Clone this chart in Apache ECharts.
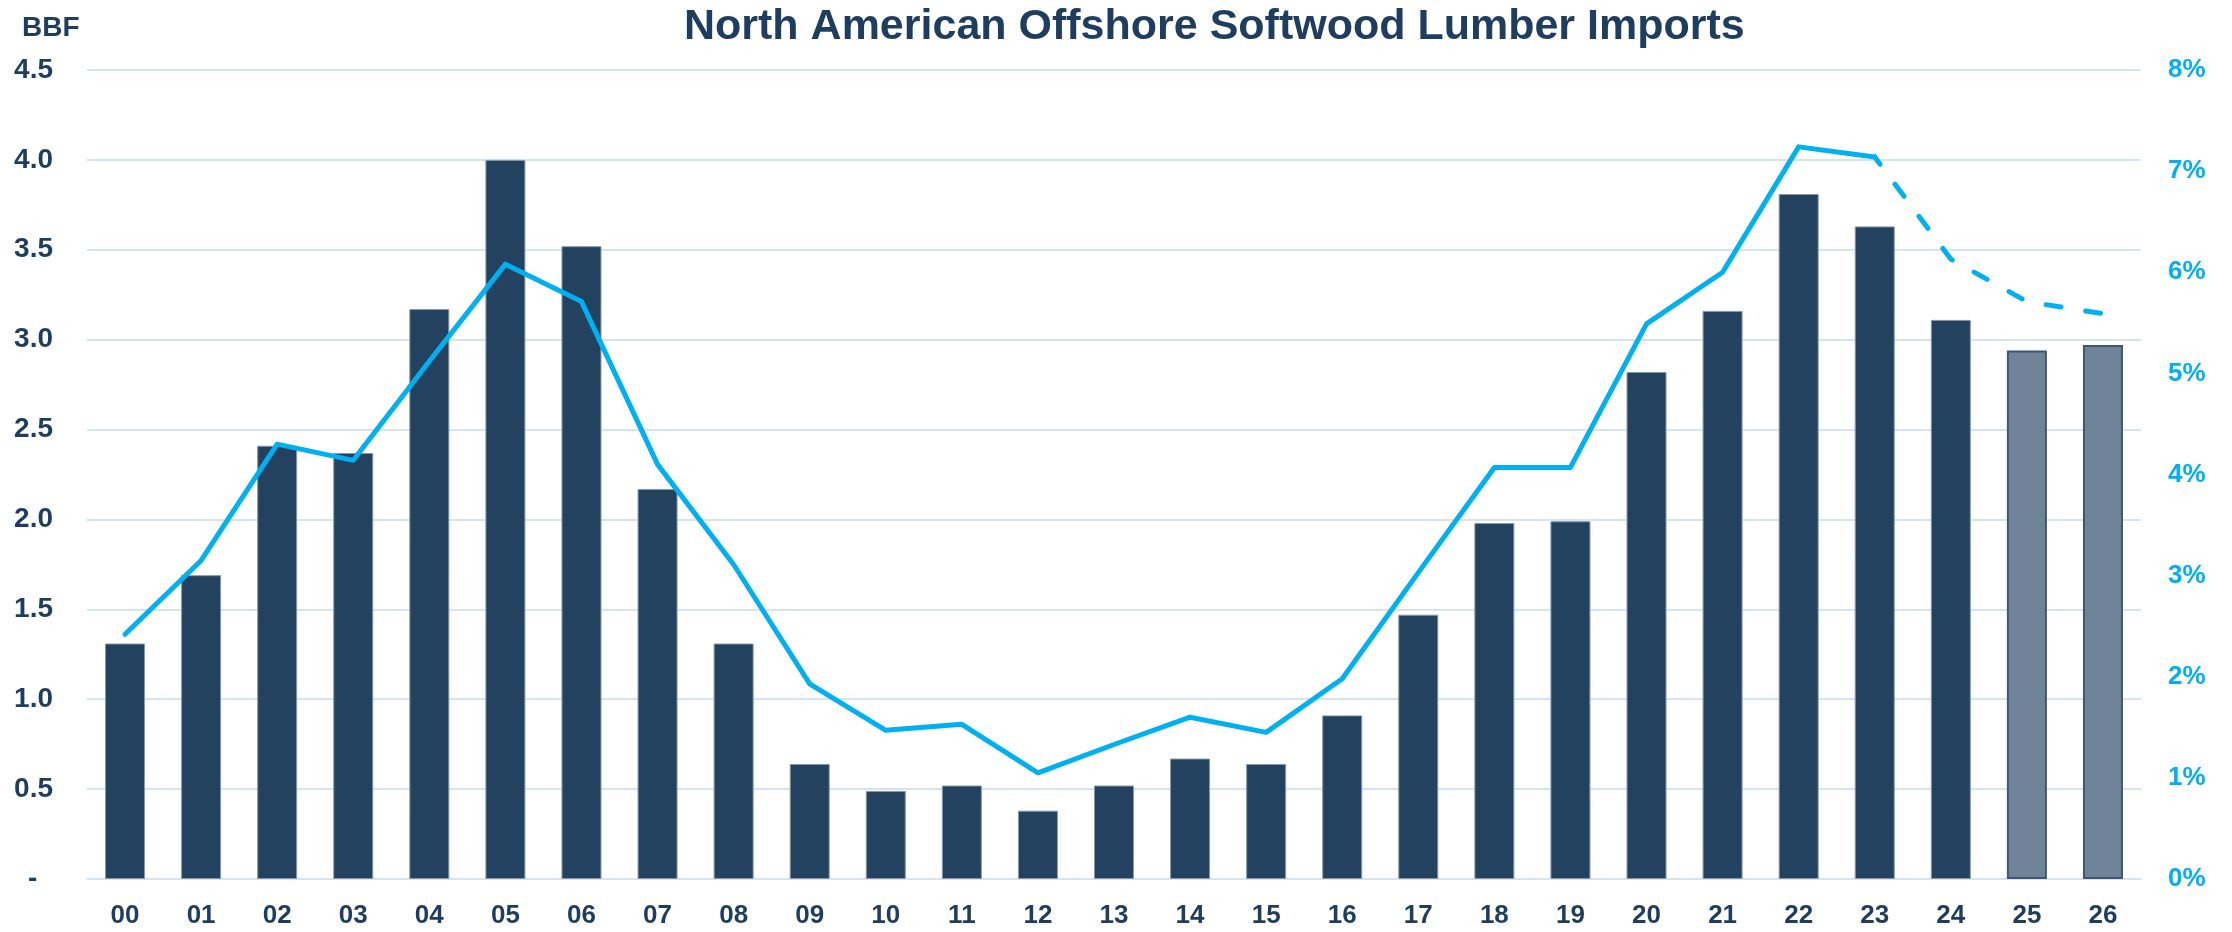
<!DOCTYPE html>
<html>
<head>
<meta charset="utf-8">
<title>North American Offshore Softwood Lumber Imports</title>
<script src="https://cdn.jsdelivr.net/npm/echarts@6/dist/echarts.min.js"></script>
<style>
  html, body { margin: 0; padding: 0; background: #ffffff; }
  #chart { width: 2232px; height: 932px; }
</style>
</head>
<body>
<div id="chart"></div>
<script>
// Years (two-digit), 2000–2026
const years = ['00','01','02','03','04','05','06','07','08','09','10','11','12','13',
               '14','15','16','17','18','19','20','21','22','23','24','25','26'];

// Offshore softwood lumber imports, billion board feet
const importsBBF = [1.31, 1.69, 2.41, 2.37, 3.17, 4.00, 3.52, 2.17, 1.31, 0.64, 0.49, 0.52, 0.38, 0.52,
                    0.67, 0.64, 0.91, 1.47, 1.98, 1.99, 2.82, 3.16, 3.81, 3.63, 3.11, 2.94, 2.97];

// Offshore share of North American consumption, percent
const sharePct = [2.42, 3.15, 4.30, 4.14, 5.12, 6.08, 5.71, 4.10, 3.11, 1.93, 1.47, 1.53, 1.05, 1.33,
                  1.60, 1.45, 1.98, 3.03, 4.07, 4.07, 5.49, 6.00, 7.24, 7.14, 6.13, 5.71, 5.59];

// Years drawn as forecasts (lighter bars)
const forecastYears = ['25', '26'];
// The share line turns dashed from this year on
const dashedFrom = '23';

// Left axis tick range
const bbfMin = 0, bbfMax = 4.5, bbfStep = 0.5;
// Right axis tick range
const pctMin = 0, pctMax = 8, pctStep = 1;

const NAVY = '#22425f';
const NAVY_TEXT = '#1f3d5e';
const FORECAST = '#6f8499';
const FORECAST_EDGE = '#3d5775';
const CYAN = '#00b0f0';
const GRID = '#d8e3f0';
const FONT = 'Arial, "Liberation Sans", Helvetica, sans-serif';

const cut = years.indexOf(dashedFrom);

const barData = years.map((y, i) => {
  const fc = forecastYears.includes(y);
  return {
    value: importsBBF[i],
    itemStyle: fc
      ? { color: FORECAST, borderColor: FORECAST_EDGE, borderWidth: 2 }
      : { color: NAVY, borderColor: '#8798ab', borderWidth: 1 }
  };
});
const solidLine = sharePct.map((v, i) => (i <= cut ? v : null));
const dashedLine = sharePct.map((v, i) => (i >= cut ? v : null));

const chart = echarts.init(document.getElementById('chart'), null, { renderer: 'canvas' });

chart.setOption({
  animation: false,
  backgroundColor: '#ffffff',
  textStyle: { fontFamily: FONT },
  title: {
    text: 'North American Offshore Softwood Lumber Imports',
    left: 684,
    top: 6,
    padding: 0,
    textStyle: { fontFamily: FONT, fontSize: 43, fontWeight: 'bold', color: NAVY_TEXT }
  },
  grid: { left: 87, right: 91, top: 70, bottom: 53, containLabel: false },
  xAxis: {
    type: 'category',
    data: years,
    axisLine: { show: true, lineStyle: { color: GRID, width: 2 } },
    axisTick: { show: false },
    axisLabel: { margin: 24, fontSize: 26, fontWeight: 'bold', color: NAVY_TEXT, fontFamily: FONT }
  },
  yAxis: [
    {
      type: 'value',
      min: bbfMin, max: bbfMax, interval: bbfStep,
      name: 'BBF',
      nameLocation: 'end',
      nameGap: 28,
      nameTextStyle: { fontSize: 28, fontWeight: 'bold', color: NAVY_TEXT, fontFamily: FONT,
                       align: 'left', padding: [0, 0, 0, -65] },
      axisLine: { show: false },
      axisTick: { show: false },
      splitLine: { show: true, lineStyle: { color: GRID, width: 2 } },
      axisLabel: {
        margin: 34, fontSize: 28, fontWeight: 'bold', color: NAVY_TEXT, fontFamily: FONT,
        formatter: v => (v === 0 ? '-  ' : v.toFixed(1))
      }
    },
    {
      type: 'value',
      position: 'right',
      min: pctMin, max: pctMax, interval: pctStep,
      axisLine: { show: false },
      axisTick: { show: false },
      splitLine: { show: false },
      axisLabel: { margin: 27, fontSize: 26, fontWeight: 'bold', color: CYAN, fontFamily: FONT,
                   formatter: '{value}%' }
    }
  ],
  series: [
    {
      name: 'Imports',
      type: 'bar',
      yAxisIndex: 0,
      barWidth: 40,
      data: barData,
      z: 2
    },
    {
      name: 'Share',
      type: 'line',
      yAxisIndex: 1,
      data: solidLine,
      symbol: 'none',
      connectNulls: false,
      lineStyle: { color: CYAN, width: 5, cap: 'round', join: 'round' },
      z: 3
    },
    {
      name: 'Share forecast',
      type: 'line',
      yAxisIndex: 1,
      data: dashedLine,
      symbol: 'none',
      connectNulls: false,
      lineStyle: { color: CYAN, width: 5, type: [15, 25], dashOffset: 6, cap: 'round', join: 'round' },
      z: 3
    }
  ]
});
</script>
</body>
</html>
